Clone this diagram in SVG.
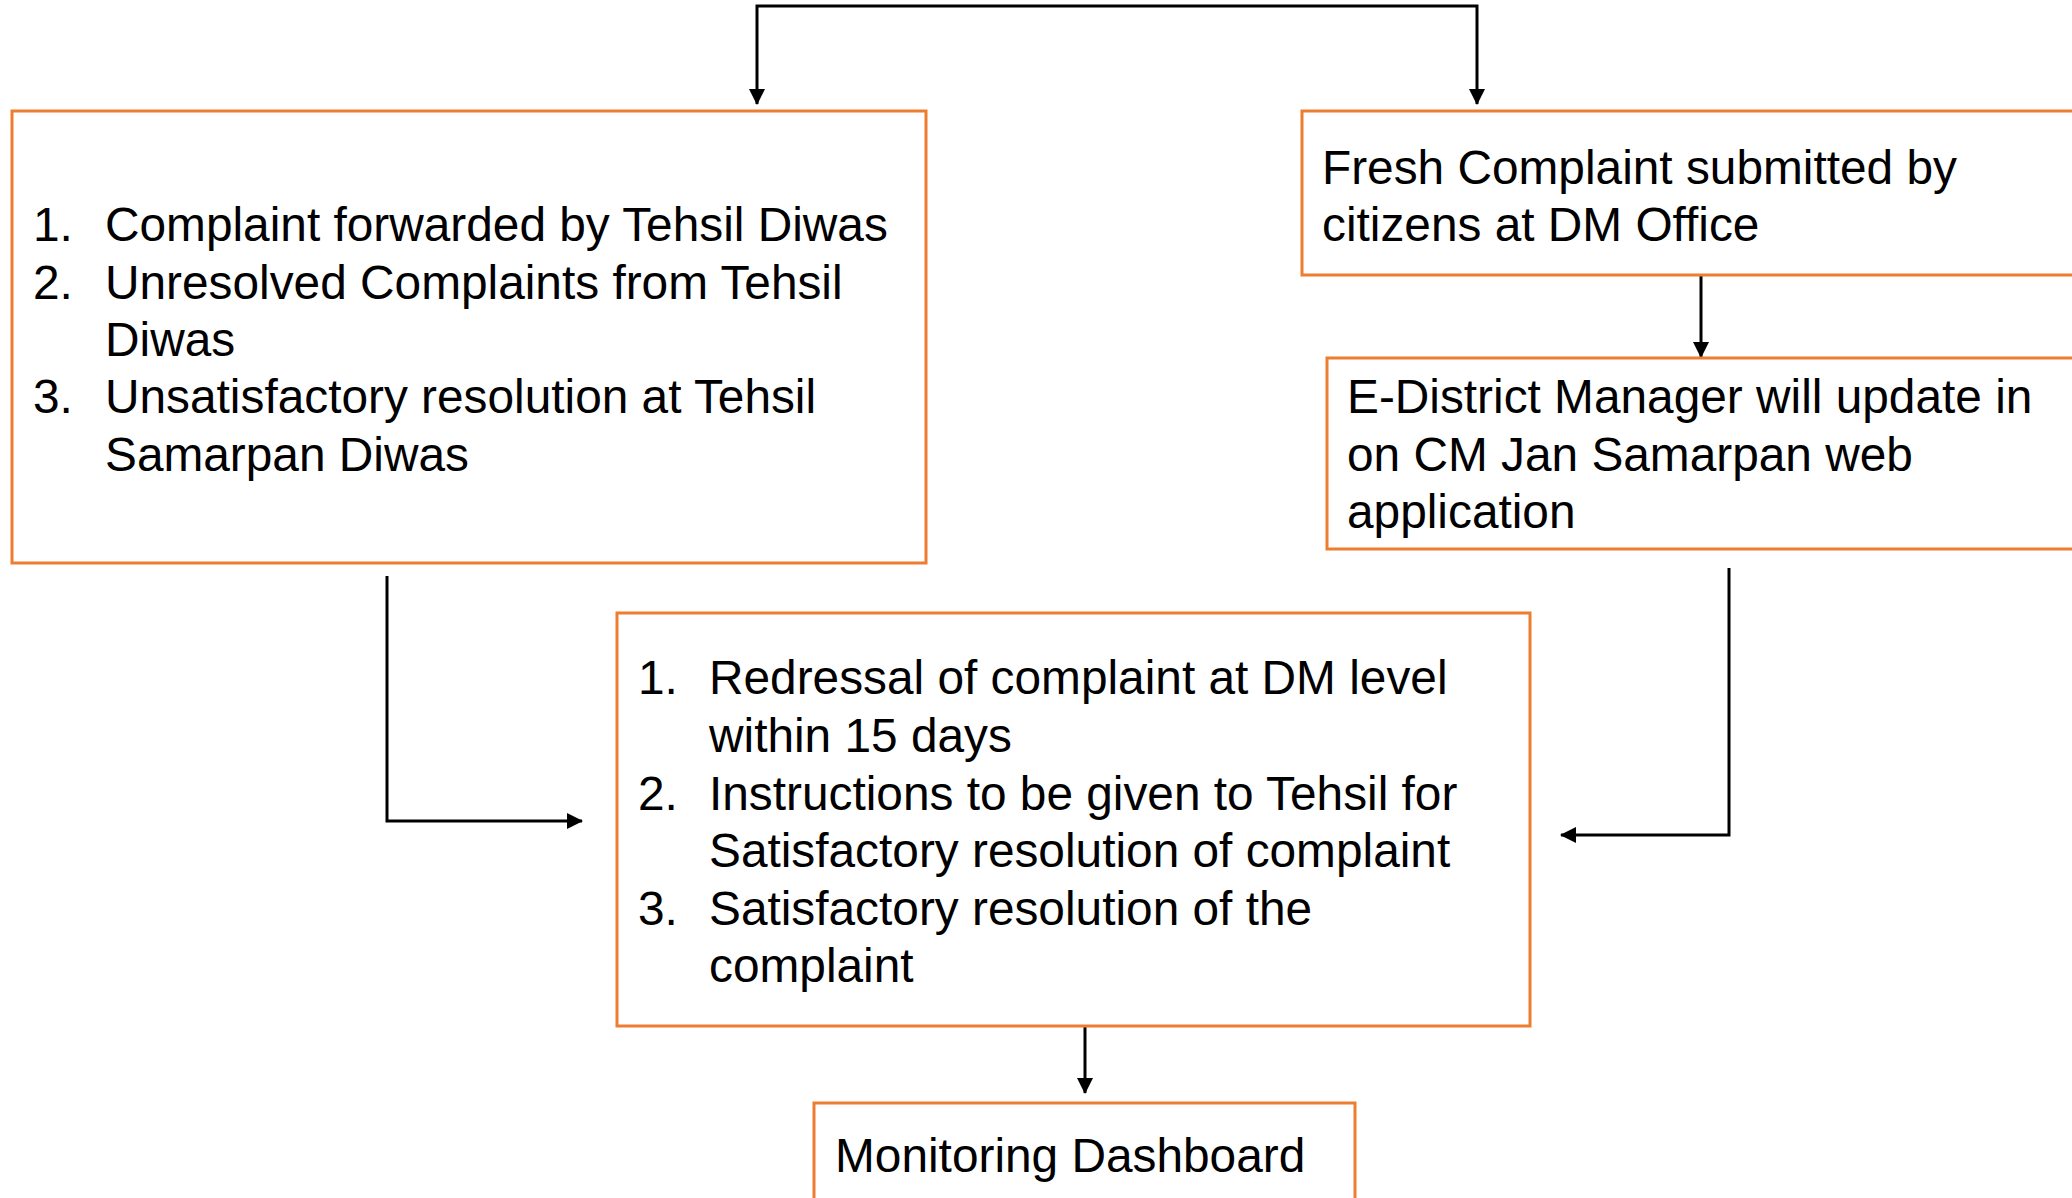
<svg xmlns="http://www.w3.org/2000/svg" width="2072" height="1198" viewBox="0 0 2072 1198">
<style>
.box{fill:#fff;stroke:#ED7D31;stroke-width:3}
.t{font-family:"Liberation Sans",Arial,sans-serif;font-size:47.8px;fill:#000}
.c{fill:none;stroke:#000;stroke-width:3;marker-end:url(#ah)}
</style>
<defs>
<marker id="ah" markerUnits="userSpaceOnUse" markerWidth="16" markerHeight="16" viewBox="0 0 16 16" refX="15" refY="8" orient="auto">
<path d="M0,0 L16,8 L0,16 z" fill="#000"/>
</marker>
</defs>
<rect width="2072" height="1198" fill="#fff"/>
<g id="connectors">
<path class="c" d="M1117,6 H757 V104"/>
<path class="c" d="M1117,6 H1477 V104"/>
<path class="c" d="M1701,276 V357"/>
<path class="c" d="M387,576 V821 H582"/>
<path class="c" d="M1729,568 V835 H1561"/>
<path class="c" d="M1085,1026 V1093"/>
</g>
<g id="node-tehsil">
<rect class="box" x="12" y="111" width="914" height="452"/>
<text class="t" x="33" y="241">1.</text><text class="t" x="105" y="241">Complaint forwarded by Tehsil Diwas</text>
<text class="t" x="33" y="299">2.</text><text class="t" x="105" y="299">Unresolved Complaints from Tehsil</text>
<text class="t" x="105" y="356">Diwas</text>
<text class="t" x="33" y="413">3.</text><text class="t" x="105" y="413">Unsatisfactory resolution at Tehsil</text>
<text class="t" x="105" y="471">Samarpan Diwas</text>
</g>
<g id="node-fresh">
<rect class="box" x="1302" y="111" width="780" height="164"/>
<text class="t" x="1322" y="184">Fresh Complaint submitted by</text>
<text class="t" x="1322" y="241">citizens at DM Office</text>
</g>
<g id="node-edistrict">
<rect class="box" x="1327" y="358" width="760" height="191"/>
<text class="t" x="1347" y="413">E-District Manager will update in</text>
<text class="t" x="1347" y="471">on CM Jan Samarpan web</text>
<text class="t" x="1347" y="528">application</text>
</g>
<g id="node-dm">
<rect class="box" x="617" y="613" width="913" height="413"/>
<text class="t" x="638" y="694">1.</text><text class="t" x="709" y="694">Redressal of complaint at DM level</text>
<text class="t" x="709" y="752">within 15 days</text>
<text class="t" x="638" y="810">2.</text><text class="t" x="709" y="810">Instructions to be given to Tehsil for</text>
<text class="t" x="709" y="867">Satisfactory resolution of complaint</text>
<text class="t" x="638" y="925">3.</text><text class="t" x="709" y="925">Satisfactory resolution of the</text>
<text class="t" x="709" y="982">complaint</text>
</g>
<g id="node-monitoring">
<rect class="box" x="814" y="1103" width="541" height="120"/>
<text class="t" x="835" y="1172">Monitoring Dashboard</text>
</g>
</svg>
